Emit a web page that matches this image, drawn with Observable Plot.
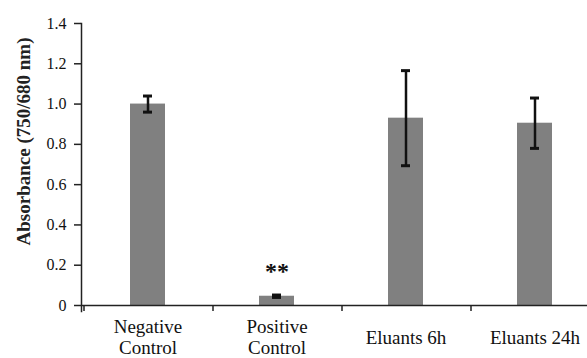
<!DOCTYPE html>
<html>
<head>
<meta charset="utf-8">
<script src="https://cdn.jsdelivr.net/npm/d3@7"></script>
<script src="https://cdn.jsdelivr.net/npm/@observablehq/plot@0.6"></script>
<style>
  html, body { margin: 0; padding: 0; background: #fff; }
  svg { font-family: "Liberation Serif", "Times New Roman", serif; }
</style>
</head>
<body>
<div id="chart"></div>
<script>
// Data
const categories = ["Negative\nControl", "Positive\nControl", "Eluants 6h", "Eluants 24h"];
const means = [1.00, 0.046, 0.93, 0.905];
const errors = [0.04, 0.006, 0.236, 0.125];
const yTicks = [0, 0.2, 0.4, 0.6, 0.8, 1.0, 1.2, 1.4];
const yLabel = "Absorbance (750/680 nm)";
const annotationCats = ["Positive\nControl"];
const annotationText = ["**"];

const data = categories.map((c, i) => ({cat: c, v: means[i], e: errors[i]}));
const annotations = annotationCats.map((c, i) => {
  const k = categories.indexOf(c);
  return {cat: c, y: means[k] + errors[k], label: annotationText[i]};
});

const chart = Plot.plot({
  width: 587,
  height: 358,
  marginLeft: 81,
  marginRight: -13,
  marginTop: 23,
  marginBottom: 53,
  style: {fontFamily: "'Liberation Serif', 'Times New Roman', serif", background: "#fff"},
  x: {domain: categories, paddingInner: 0.73, paddingOuter: 0.365},
  y: {domain: [0, 1.4]},
  marks: [
    Plot.barY(data, {x: "cat", y: "v", fill: "#808080"}),
    Plot.ruleX(data, {x: "cat", y1: d => d.v - d.e, y2: d => d.v + d.e, stroke: "#111", strokeWidth: 2.5}),
    Plot.tickY(data, {x: "cat", y: d => d.v - d.e, insetLeft: 13, insetRight: 13, stroke: "#111", strokeWidth: 3}),
    Plot.tickY(data, {x: "cat", y: d => d.v + d.e, insetLeft: 13, insetRight: 13, stroke: "#111", strokeWidth: 3}),
    Plot.text(annotations, {x: "cat", y: "y", text: "label", dy: -24, fontSize: 24, fontWeight: "bold", fill: "#111"}),
    Plot.ruleY([0], {stroke: "#222", strokeWidth: 1.5}),
    Plot.frame({anchor: "left", insetBottom: -6, stroke: "#222", strokeWidth: 1.5}),
    Plot.axisY({ticks: yTicks, tickFormat: d => d === 0 ? "0" : d.toFixed(1), tickSize: 7, tickPadding: 8, fontSize: 16, label: null, stroke: "#222", strokeWidth: 1.5, color: "#111"}),
    Plot.axisX({tickSize: 6, tickFormat: () => "", dx: -64, stroke: "#222", strokeWidth: 1.5, label: null}),
    Plot.axisX({tickSize: 0, tickPadding: 31, lineAnchor: "middle", lineHeight: 1.15, fontSize: 19, label: null, color: "#111"}),
    Plot.text([yLabel], {frameAnchor: "left", textAnchor: "middle", lineAnchor: "middle", rotate: -90, dx: -58, dy: -23, fontSize: 19, fontWeight: "bold", fill: "#222"})
  ]
});
document.getElementById("chart").appendChild(chart);
</script>
</body>
</html>
